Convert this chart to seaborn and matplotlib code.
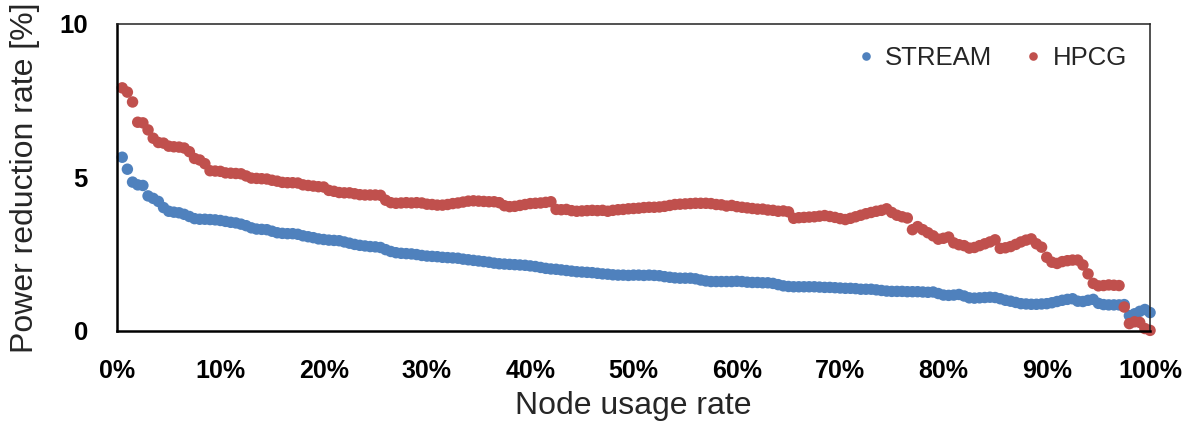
import numpy as np
import pandas as pd
import matplotlib
matplotlib.use("Agg")
import matplotlib.pyplot as plt
import seaborn as sns

# ─── DATA ────────────────────────────────────────────────────────────────────
# nodes sorted by reduction rate, one sample every 0.5 % of node usage
usage_rate = np.arange(1, 201) * 0.5

stream_rate = [
    5.66, 5.27, 4.85, 4.76, 4.74, 4.40, 4.32, 4.22, 4.02, 3.90,
    3.87, 3.85, 3.80, 3.73, 3.66, 3.64, 3.64, 3.63, 3.62, 3.60,
    3.57, 3.54, 3.52, 3.48, 3.43, 3.36, 3.32, 3.31, 3.30, 3.25,
    3.20, 3.18, 3.17, 3.17, 3.15, 3.10, 3.07, 3.04, 3.00, 2.98,
    2.96, 2.95, 2.94, 2.90, 2.86, 2.82, 2.79, 2.77, 2.75, 2.74,
    2.72, 2.65, 2.59, 2.55, 2.53, 2.52, 2.51, 2.49, 2.46, 2.44,
    2.43, 2.42, 2.40, 2.39, 2.38, 2.37, 2.34, 2.32, 2.30, 2.28,
    2.26, 2.24, 2.21, 2.19, 2.18, 2.17, 2.16, 2.15, 2.14, 2.12,
    2.10, 2.07, 2.04, 2.02, 2.01, 1.99, 1.97, 1.95, 1.93, 1.92,
    1.91, 1.90, 1.88, 1.86, 1.85, 1.83, 1.82, 1.82, 1.81, 1.82,
    1.82, 1.81, 1.82, 1.81, 1.80, 1.77, 1.75, 1.73, 1.72, 1.72,
    1.72, 1.70, 1.66, 1.63, 1.61, 1.61, 1.61, 1.61, 1.61, 1.62,
    1.61, 1.59, 1.58, 1.58, 1.57, 1.57, 1.55, 1.51, 1.47, 1.45,
    1.44, 1.44, 1.44, 1.44, 1.44, 1.43, 1.42, 1.42, 1.41, 1.40,
    1.39, 1.39, 1.38, 1.36, 1.36, 1.36, 1.34, 1.32, 1.30, 1.29,
    1.29, 1.29, 1.28, 1.28, 1.28, 1.27, 1.26, 1.27, 1.22, 1.17,
    1.16, 1.17, 1.19, 1.14, 1.08, 1.07, 1.08, 1.09, 1.10, 1.09,
    1.05, 1.00, 0.97, 0.93, 0.89, 0.88, 0.87, 0.87, 0.88, 0.89,
    0.92, 0.96, 1.00, 1.03, 1.05, 0.97, 0.96, 1.00, 1.03, 0.90,
    0.86, 0.85, 0.85, 0.85, 0.86, 0.50, 0.56, 0.64, 0.70, 0.60,
]

hpcg_rate = [
    7.92, 7.78, 7.46, 6.80, 6.78, 6.55, 6.28, 6.14, 6.12, 6.02,
    6.00, 5.99, 5.96, 5.84, 5.62, 5.57, 5.45, 5.22, 5.21, 5.20,
    5.15, 5.14, 5.13, 5.12, 5.05, 4.98, 4.97, 4.96, 4.95, 4.91,
    4.88, 4.84, 4.83, 4.83, 4.82, 4.76, 4.74, 4.72, 4.70, 4.69,
    4.58, 4.55, 4.51, 4.50, 4.50, 4.47, 4.44, 4.43, 4.43, 4.43,
    4.42, 4.26, 4.18, 4.16, 4.17, 4.18, 4.17, 4.18, 4.17, 4.13,
    4.12, 4.10, 4.10, 4.12, 4.15, 4.17, 4.20, 4.23, 4.24, 4.23,
    4.22, 4.21, 4.21, 4.18, 4.08, 4.05, 4.06, 4.09, 4.12, 4.15,
    4.16, 4.17, 4.19, 4.21, 3.96, 3.95, 3.96, 3.92, 3.90, 3.91,
    3.92, 3.93, 3.92, 3.93, 3.90, 3.93, 3.95, 3.96, 3.98, 3.99,
    4.00, 4.02, 4.03, 4.03, 4.04, 4.06, 4.09, 4.12, 4.13, 4.14,
    4.15, 4.16, 4.16, 4.16, 4.15, 4.12, 4.11, 4.07, 4.09, 4.05,
    4.03, 4.01, 3.99, 3.97, 3.97, 3.94, 3.93, 3.90, 3.91, 3.88,
    3.67, 3.69, 3.70, 3.71, 3.72, 3.74, 3.76, 3.73, 3.70, 3.66,
    3.63, 3.67, 3.72, 3.77, 3.82, 3.86, 3.90, 3.93, 3.98, 3.86,
    3.77, 3.72, 3.68, 3.30, 3.40, 3.30, 3.20, 3.10, 2.99, 3.02,
    3.06, 2.87, 2.81, 2.78, 2.70, 2.72, 2.78, 2.84, 2.90, 2.97,
    2.69, 2.71, 2.75, 2.82, 2.90, 2.96, 3.00, 2.84, 2.73, 2.40,
    2.24, 2.20, 2.26, 2.29, 2.31, 2.31, 2.15, 1.86, 1.55, 1.47,
    1.48, 1.50, 1.49, 1.48, 0.78, 0.24, 0.30, 0.28, 0.08, 0.02,
]

series_names = ["STREAM", "HPCG"]
series_colors = ["#4F81BD", "#C0504D"]
x_ticks = [0, 10, 20, 30, 40, 50, 60, 70, 80, 90, 100]
x_tick_labels = [f"{t}%" for t in x_ticks]
y_ticks = [0, 5, 10]
# ─────────────────────────────────────────────────────────────────────────────

df = pd.concat([
    pd.DataFrame({"usage": usage_rate, "rate": stream_rate, "bench": "STREAM"}),
    pd.DataFrame({"usage": usage_rate, "rate": hpcg_rate, "bench": "HPCG"}),
], ignore_index=True)

sns.set_style("white")
plt.rcParams["font.family"] = ["Liberation Sans", "DejaVu Sans"]

fig = plt.figure(figsize=(11.92, 4.21), dpi=100)
ax = fig.add_axes([0.0982, 0.2138, 0.8666, 0.7292])

sns.scatterplot(data=df, x="usage", y="rate", hue="bench",
                hue_order=series_names, palette=series_colors,
                s=68, linewidth=0, alpha=1, clip_on=False, ax=ax)

ax.set_xlim(0, 100)
ax.set_ylim(0, 10)
ax.set_xticks(x_ticks)
ax.set_xticklabels(x_tick_labels, fontsize=18, fontweight="bold")
ax.set_yticks(y_ticks)
ax.set_yticklabels([str(t) for t in y_ticks], fontsize=18.5, fontweight="bold")
ax.tick_params(axis="x", direction="in", length=7, width=1.3, pad=20, colors="black")
ax.tick_params(axis="y", direction="in", length=7, width=1.3, pad=21, colors="black")

ax.set_xlabel("Node usage rate", fontsize=23, labelpad=6)
ax.set_ylabel("Power reduction rate [%]", fontsize=23, labelpad=14)

for side in ["left", "bottom"]:
    ax.spines[side].set_linewidth(1.8)
    ax.spines[side].set_color("black")
for side in ["top", "right"]:
    ax.spines[side].set_linewidth(1.1)
    ax.spines[side].set_color("#222222")
    ax.spines[side].set_visible(True)

handles, labels = ax.get_legend_handles_labels()
ax.legend(handles, labels, ncol=2, frameon=False, fontsize=18.5,
          loc="upper right", bbox_to_anchor=(1.0, 1.005),
          markerscale=0.75, handlelength=0.8, handletextpad=0.35,
          columnspacing=1.2)

fig.savefig("out.png", dpi=100)
